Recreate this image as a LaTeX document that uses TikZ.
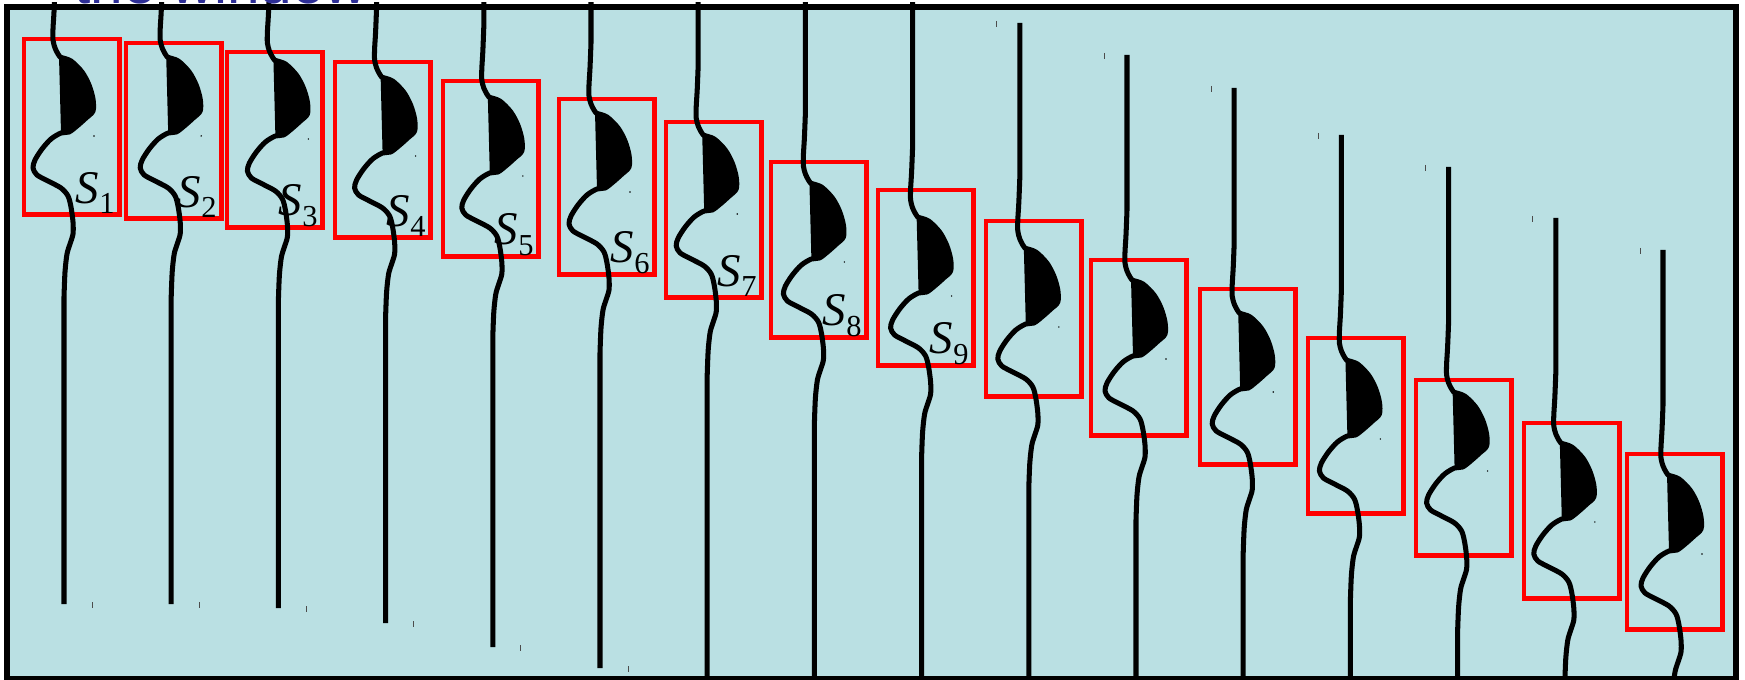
\documentclass[tikz,border=0pt]{standalone}
\usepackage{fontspec}
\setmainfont{Liberation Serif}
\newfontfamily\winfont{Liberation Sans}
\definecolor{panel}{RGB}{186,224,227}
\definecolor{capblue}{RGB}{46,46,150}

\begin{document}
\begin{tikzpicture}[x=0.3mm,y=-0.3mm,
  tr/.style={line width=4.3pt,line join=round},
  win/.style={draw=red,line width=3.9pt,inner sep=0pt,outer sep=0pt,minimum width=28.65mm,minimum height=52.65mm,anchor=north west},
  lbl/.style={anchor=south east,inner sep=0pt,outer sep=0pt,font=\fontsize{40}{44}\selectfont},
  tick/.style={line width=0.7pt,black!70}]
\useasboundingbox (0,0) rectangle (1745,680);
\fill[panel] (7,7) rectangle (1736,679);
% windows round the first arrival
\foreach \i/\bx/\by in {1/24/39,2/126/43,3/227/52,4/335/62,5/443/81,6/559/99,7/666/122,8/771/162,
  9/878/190,10/986/221,11/1091/260,12/1200/289,13/1308/338,14/1416/380,15/1524/423,16/1627/454}
  \node[win] (w\i) at (\bx,\by) {};
% traces
\begin{scope}
\clip (0,3) rectangle (1745,678);
\foreach \i/\d/\e in {1/57/604,2/57/604,3/60/608,4/77/623,5/97/647,6/113/668,7/135/690,8/183/730,
  9/217/764,10/248/795,11/280/827,12/313/860,13/360/907,14/392/939,15/443/990,16/475/1022}{
  \begin{scope}[shift={({55+107.2*(\i-1)},\d)}]
    \fill plot[smooth] coordinates {(4,-1) (16,4) (27,15) (34,28) (38,42) (38,54) (31,61) (22,69) (14,75) (6,76)} -- cycle;
    \draw[tr] (0,-225) -- plot[smooth] coordinates {(0,-70) (-1,-45) (-2,-28) (-2,-17) (0,-9) (3,-3) (5,0) (16,4) (27,15)
      (34,28) (38,42) (38,54) (31,61) (22,69) (14,75) (6,76) (-4,82) (-13,92) (-20,103) (-22,111) (-18,118) (-7,124)
      (6,131) (13,139) (16,150) (18,165) (18,177) (15,187) (12,197) (10,215) (9,240)} -- (9,\e-\d);
    \fill (39,79) circle (0.8);
    \draw[tick] (-23,-227) -- (-23,-221);
    \draw[tick] (37,\e-\d-2) -- (37,\e-\d+4);
  \end{scope}
}
\end{scope}
% labels
\foreach \i in {1,...,9}
  \node[lbl] (s\i) at ([shift={(-5,-1)}]w\i.south east) {\textit{S}\raisebox{-0.22em}{\fontsize{26}{26}\selectfont\i}};
\node[anchor=base west,inner sep=0pt,text=capblue,font=\winfont\fontsize{50}{55}\selectfont] (ttl) at (74,4) {the window};
\draw[line width=4.3pt] (7,7) rectangle (1736,679);
\end{tikzpicture}
\end{document}
